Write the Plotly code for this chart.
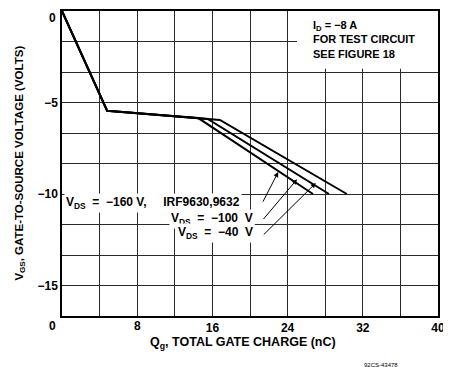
import plotly.graph_objects as go

# Common initial portion of the gate-charge curve
q_common = [0, 3.8, 4.8]
v_common = [0, -4.35, -5.45]

# Plateau end and final points for each VDS curve
q_vds40 = [14.5, 26.7]
v_vds40 = [-5.85, -10]
q_vds100 = [15.5, 28.4]
v_vds100 = [-5.9, -10]
q_vds160 = [16.8, 30.3]
v_vds160 = [-5.95, -10]

x_ticks = [0, 8, 16, 24, 32, 40]
x_ticktext = ["", "", "16", "24", "32", "40"]
y_ticks = [0, -5, -10, -15]
y_ticktext = ["", "−5", "−10", "−15"]

FONT = "Liberation Sans"
NB = "\u00a0"
fig = go.Figure()
for qs, vs in [(q_vds40, v_vds40), (q_vds100, v_vds100), (q_vds160, v_vds160)]:
    fig.add_trace(go.Scatter(x=q_common + qs, y=v_common + vs, mode="lines",
                             line=dict(color="black", width=2), showlegend=False,
                             hoverinfo="skip"))

GRID = "#2a2a2a"
# page body has an 8px margin: figure is shifted by 8px right/down; extra width is cropped
fig.update_layout(
    template="none",
    width=460, height=359, autosize=False,
    margin=dict(l=54, r=30, t=3, b=51, pad=0),
    paper_bgcolor="white", plot_bgcolor="white",
    font=dict(family=FONT, color="black", size=11),
    showlegend=False,
    xaxis=dict(range=[0, 40], tickmode="array", tickvals=x_ticks, ticktext=x_ticktext,
               showgrid=True, gridcolor=GRID, gridwidth=1, zeroline=False,
               minor=dict(dtick=4, tick0=0, showgrid=True, gridcolor=GRID, gridwidth=1, ticks=""),
               showline=True, linecolor="black", linewidth=1.5, mirror=True,
               ticks="", tickfont=dict(size=12, weight="bold"), automargin=False),
    yaxis=dict(range=[-50/3, 0], tickmode="array", tickvals=y_ticks, ticktext=y_ticktext,
               showgrid=True, gridcolor=GRID, gridwidth=1, zeroline=False,
               minor=dict(dtick=5/3, tick0=0, showgrid=True, gridcolor=GRID, gridwidth=1, ticks=""),
               showline=True, linecolor="black", linewidth=1.5, mirror=True,
               ticks="", tickfont=dict(size=12, weight="bold"), automargin=False),
)

# white area behind the test-condition note (grid interrupted there)
fig.add_shape(type="rect", xref="x", yref="y", x0=25.0, x1=40, y0=-3.15, y1=0,
              fillcolor="white", line=dict(width=0), layer="between")

ann = []
# zero labels offset from the corner as in the original, and the "8" label
ann.append(dict(xref="paper", yref="paper", x=-0.01, y=0.976, xanchor="right", yanchor="middle",
                text="<b>0</b>", showarrow=False, font=dict(size=12)))
ann.append(dict(xref="paper", yref="paper", x=-0.024, y=-0.002, xanchor="center", yanchor="top",
                text="<b>0</b>", showarrow=False, font=dict(size=12)))
ann.append(dict(xref="x", yref="paper", x=8, y=-0.002, xanchor="center", yanchor="top",
                text="<b>8</b>", showarrow=False, font=dict(size=12)))
ann.append(dict(xref="paper", yref="paper", x=-0.138, y=0.5, textangle=-90,
                text="<b>V<sub>GS</sub>, GATE-TO-SOURCE VOLTAGE (VOLTS)</b>",
                showarrow=False, font=dict(size=11.5)))
ann.append(dict(xref="paper", yref="paper", x=0.481, y=-0.088, yanchor="middle",
                text="<b>Q<sub>g</sub>, TOTAL GATE CHARGE (nC)</b>",
                showarrow=False, font=dict(size=12.5)))
ann.append(dict(xref="paper", yref="paper", x=0.899, y=-0.162, yanchor="middle",
                text="92CS-43478", showarrow=False, font=dict(size=6)))
# Test condition note
ann.append(dict(x=26.5, y=-0.35, xanchor="left", yanchor="top", align="left",
                text="<b>I<sub>D</sub> = −8 A<br>FOR TEST CIRCUIT<br>SEE FIGURE 18</b>",
                showarrow=False, font=dict(size=11)))
# Curve labels
ann.append(dict(x=0.25, y=-10.5, xanchor="left", yanchor="middle",
                text=f"<b>V<sub>DS</sub>{NB*2}={NB*2}−160{NB}V,{NB*5}IRF9630,9632</b>",
                showarrow=False, font=dict(size=12), bgcolor="white"))
ann.append(dict(x=20.5, y=-11.35, xanchor="right", yanchor="middle",
                text=f"<b>V<sub>DS</sub>{NB*2}={NB*2}−100{NB*2}V</b>",
                showarrow=False, font=dict(size=12), bgcolor="white"))
ann.append(dict(x=20.5, y=-12.15, xanchor="right", yanchor="middle",
                text=f"<b>V<sub>DS</sub>{NB*2}={NB*2}−40{NB*2}V</b>",
                showarrow=False, font=dict(size=12), bgcolor="white"))
# Arrows
for (hx, hy, tx, ty) in [(23.0, -8.8, 21.3, -10.5), (25.0, -9.2, 21.3, -11.45), (27.0, -9.4, 21.3, -12.3)]:
    ann.append(dict(x=hx, y=hy, ax=tx, ay=ty, xref="x", yref="y", axref="x", ayref="y",
                    showarrow=True, arrowhead=2, arrowsize=1, arrowwidth=1, arrowcolor="black",
                    text=""))
fig.update_layout(annotations=ann)
fig.write_html("out.html")
